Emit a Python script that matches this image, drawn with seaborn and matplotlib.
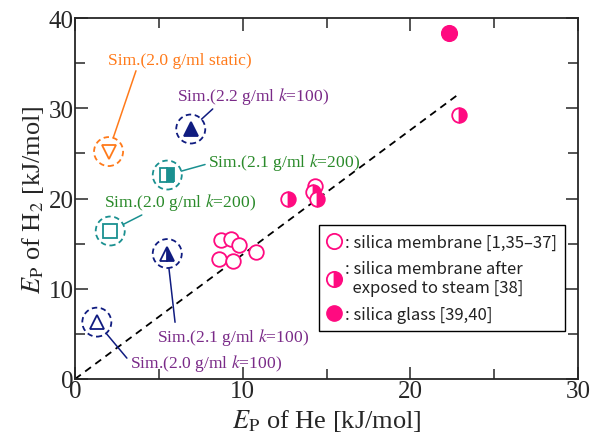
import matplotlib
matplotlib.use('Agg')
import matplotlib.pyplot as plt
import seaborn as sns
from matplotlib.patches import Ellipse
from matplotlib.lines import Line2D

# experimental data (Ep of He, Ep of H2)
membrane_he = [8.7, 9.3, 9.8, 10.8, 8.6, 9.4, 14.3]
membrane_h2 = [15.4, 15.5, 14.8, 14.1, 13.3, 13.1, 21.4]
steam_he = [12.7, 14.2, 14.4, 22.9]
steam_h2 = [19.9, 20.7, 20.0, 29.2]
glass_he = [22.3]
glass_h2 = [38.3]

# simulation points
sim_labels = ['Sim.(2.0 g/ml static)', 'Sim.(2.2 g/ml $k$=100)', 'Sim.(2.1 g/ml $k$=200)',
              'Sim.(2.0 g/ml $k$=200)', 'Sim.(2.1 g/ml $k$=100)', 'Sim.(2.0 g/ml $k$=100)']
sim_he = [2.0, 6.9, 5.5, 2.1, 5.5, 1.3]
sim_h2 = [25.2, 27.7, 22.6, 16.4, 13.9, 6.3]

# guide line
guide_he = [0, 22.9]
guide_h2 = [0, 31.6]

PINK = '#ff0a80'
ORANGE = '#ff7a1a'
NAVY = '#101c80'
TEAL = '#1a9090'
PURPLE = '#7a2a88'
GREEN = '#2a8a2a'

sns.set_style('ticks')
plt.rcParams['font.family'] = ['Liberation Serif', 'DejaVu Serif']
plt.rcParams['mathtext.fontset'] = 'stix'

fig = plt.figure(figsize=(5.93, 4.39), dpi=100)
ax = fig.add_axes([0.1265, 0.1344, 0.8485, 0.8223])

sns.lineplot(x=guide_he, y=guide_h2, ax=ax, color='black', linestyle=(0, (4, 3)), linewidth=1.3)

sns.scatterplot(x=membrane_he, y=membrane_h2, ax=ax, marker='o', s=110,
                facecolor='white', edgecolor=PINK, linewidth=1.3, zorder=3)
ax.plot(steam_he, steam_h2, linestyle='', marker='o', markersize=10.5, fillstyle='right',
        color=PINK, markerfacecoloralt='white', markeredgecolor=PINK, markeredgewidth=1.3, zorder=4)
sns.scatterplot(x=glass_he, y=glass_h2, ax=ax, marker='o', s=130,
                color=PINK, edgecolor=PINK, zorder=3)

# simulation markers
styles = [
    dict(marker='v', color=ORANGE, fillstyle='none'),
    dict(marker='^', color=NAVY, fillstyle='full'),
    dict(marker='s', color=TEAL, fillstyle='right'),
    dict(marker='s', color=TEAL, fillstyle='none'),
    dict(marker='^', color=NAVY, fillstyle='right'),
    dict(marker='^', color=NAVY, fillstyle='none'),
]
for x, y, st in zip(sim_he, sim_h2, styles):
    ax.plot([x], [y], linestyle='', marker=st['marker'], markersize=9.5, fillstyle=st['fillstyle'],
            color=st['color'], markeredgecolor=st['color'], markerfacecoloralt='white',
            markeredgewidth=1.3, zorder=4)
    ax.add_patch(Ellipse((x, y), 1.73, 3.21, fill=False, edgecolor=st['color'],
                         linestyle=(0, (3, 2)), linewidth=1.3, zorder=4))

# annotations: text pos, text colour, line colour, attach point on text
notes = [
    ((6.27, 35.4), ORANGE, ORANGE, (0.2, 0.0)),
    ((10.6, 31.45), PURPLE, NAVY, (0.26, 0.0)),
    ((12.48, 24.1), GREEN, TEAL, (0.0, 0.4)),
    ((6.27, 19.7), GREEN, TEAL, (0.29, 0.0)),
    ((9.43, 4.76), PURPLE, NAVY, (0.12, 1.0)),
    ((7.82, 1.88), PURPLE, NAVY, (0.0, 0.5)),
]
for lab, x, y, (tpos, tc, lc, rp) in zip(sim_labels, sim_he, sim_h2, notes):
    ax.annotate(lab, xy=(x, y), xytext=tpos, ha='center', va='center', fontsize=12.6, color=tc,
                arrowprops=dict(arrowstyle='-', color=lc, lw=1.1, relpos=rp, shrinkA=0, shrinkB=10.5))

ax.set_xlim(0, 30)
ax.set_ylim(0, 40)
ax.set_xticks([0, 10, 20, 30])
ax.set_yticks([0, 10, 20, 30, 40])
ax.set_xticks([5, 15, 25], minor=True)
ax.set_yticks([5, 15, 25, 35], minor=True)
ax.tick_params(which='both', direction='in', top=True, right=True, labelsize=18, width=1.1, pad=1)
ax.tick_params(which='major', length=9)
ax.tick_params(which='minor', length=7)
for s in ax.spines.values():
    s.set_linewidth(1.3)
ax.set_xlabel('$E_\\mathrm{P}$ of He [kJ/mol]', fontsize=19, labelpad=3)
ax.set_ylabel('$E_\\mathrm{P}$ of H$_2$ [kJ/mol]', fontsize=19, labelpad=2)

handles = [
    Line2D([], [], linestyle='', marker='o', markersize=11, color=PINK, fillstyle='none', markeredgewidth=1.3),
    Line2D([], [], linestyle='', marker='o', markersize=11, color=PINK, fillstyle='right',
           markerfacecoloralt='white', markeredgewidth=1.3),
    Line2D([], [], linestyle='', marker='o', markersize=11, color=PINK),
]
leg_labels = [': silica membrane [1,35\u201337]', ': silica membrane after\n  exposed to steam [38]',
              ': silica glass [39,40]']
leg = ax.legend(handles, leg_labels, loc='lower right', bbox_to_anchor=(0.974, 0.133),
                prop={'family': ['Noto Sans CJK JP', 'DejaVu Sans'], 'size': 12},
                fancybox=False, edgecolor='black', framealpha=1, handlelength=0.8,
                handletextpad=0.25, borderpad=0.5, labelspacing=0.55, borderaxespad=0)
leg.get_frame().set_linewidth(1.0)
for t in leg.get_texts():
    t.set_color('#222222')

fig.savefig('out.png', dpi=100)
